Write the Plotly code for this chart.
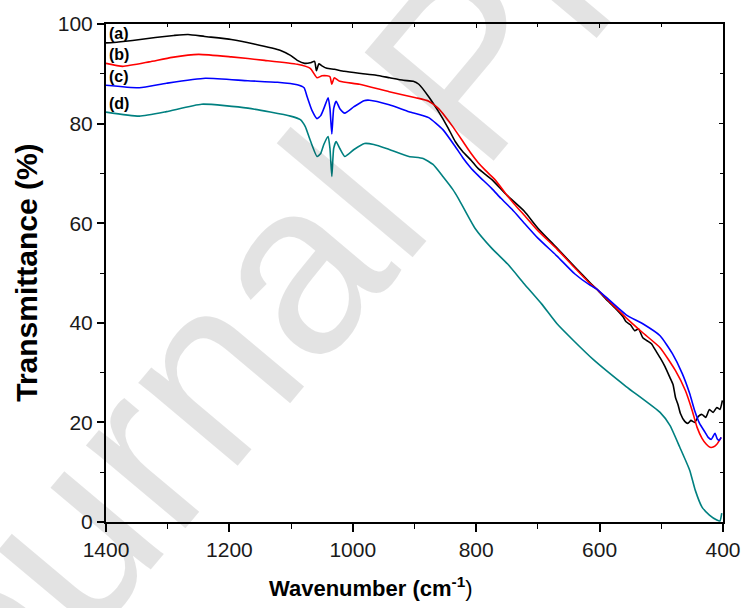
import plotly.graph_objects as go

# FTIR spectra, wavenumber (cm-1) vs transmittance (%)
wn_a = [1400, 1380, 1357, 1320, 1290, 1267, 1240, 1197, 1160, 1117, 1101, 1090, 1078, 1069, 1062,
        1059, 1055, 1050, 1042, 1030, 1014, 990, 962, 940, 918, 902, 893, 877, 861, 845, 834, 822,
        808, 797, 775, 750, 722, 700, 669, 640, 615, 605, 590, 575, 562, 557, 550, 543, 537, 530,
        523, 516, 509, 502, 494, 486, 481, 477, 473, 469, 462, 457, 452, 446, 440, 434, 428, 422,
        416, 410, 405, 401]
t_a = [96.2, 96.4, 96.7, 97.3, 97.7, 97.9, 97.5, 96.9, 96.0, 94.7, 93.7, 92.7, 92.1, 92.2, 92.5,
       90.6, 92.0, 91.6, 91.1, 90.9, 90.5, 90.1, 89.7, 89.2, 88.7, 88.5, 87.9, 85.4, 82.4, 79.0,
       76.4, 74.4, 72.6, 71.0, 68.8, 65.6, 62.4, 59.0, 55.0, 51.2, 48.0, 46.8, 44.8, 43.0, 41.2,
       40.2, 39.6, 38.4, 38.8, 37.0, 36.4, 35.8, 34.4, 33.0, 31.2, 29.0, 27.6, 25.0, 23.6, 21.8,
       20.2, 19.8, 20.4, 20.0, 21.2, 21.6, 21.0, 22.6, 22.0, 23.0, 22.6, 24.4]

wn_b = [1400, 1373, 1330, 1293, 1250, 1197, 1143, 1090, 1069, 1058, 1050, 1042, 1037, 1034, 1030,
        1021, 989, 941, 898, 877, 861, 850, 838, 822, 810, 797, 785, 770, 750, 738, 722, 700, 669,
        640, 615, 605, 590, 557, 530, 502, 477, 461, 450, 442, 434, 427, 421, 415, 410, 403]
t_b = [92.1, 91.5, 92.4, 93.3, 93.9, 93.4, 92.7, 91.9, 91.1, 89.2, 89.6, 89.6, 89.4, 87.9, 89.2,
       88.5, 87.9, 86.4, 85.2, 84.5, 83.0, 81.4, 79.4, 76.5, 74.3, 72.2, 70.6, 68.8, 65.6, 63.8,
       61.6, 58.5, 54.8, 51.0, 47.8, 46.8, 45.0, 41.0, 38.0, 35.0, 30.4, 26.4, 22.4, 19.0, 16.8,
       15.6, 15.0, 15.1, 15.6, 17.0]

wn_c = [1400, 1346, 1302, 1239, 1170, 1122, 1090, 1079, 1074, 1066, 1058, 1052, 1047, 1040, 1037,
        1034, 1031, 1027, 1021, 1013, 998, 982, 973, 941, 909, 877, 854, 834, 822, 810, 797, 775,
        760, 742, 722, 700, 669, 640, 615, 605, 590, 557, 530, 502, 482, 466, 454, 446, 438, 429,
        424, 419, 413, 409, 406, 403]
t_c = [87.7, 87.2, 88.1, 89.1, 88.6, 88.3, 87.8, 87.2, 85.4, 82.6, 81.0, 81.6, 83.0, 85.2, 83.0,
       77.9, 83.0, 84.5, 83.0, 82.1, 83.4, 84.6, 84.7, 83.8, 82.4, 81.2, 78.8, 75.4, 73.2, 71.3,
       69.6, 67.0, 65.0, 62.8, 60.0, 57.0, 53.4, 49.8, 47.5, 46.8, 45.2, 41.6, 39.8, 37.4, 33.8,
       29.8, 25.8, 22.4, 19.8, 18.0, 17.0, 16.6, 17.8, 16.6, 16.4, 17.0]

wn_d = [1400, 1346, 1302, 1245, 1170, 1101, 1085, 1077, 1070, 1058, 1052, 1047, 1040, 1037, 1034,
        1031, 1027, 1021, 1013, 998, 981, 966, 941, 909, 886, 870, 854, 838, 829, 802, 775, 749,
        722, 694, 669, 642, 610, 557, 502, 486, 470, 454, 445, 434, 422, 410, 405, 402]
t_d = [82.3, 81.5, 82.4, 83.9, 83.1, 81.5, 80.8, 79.4, 77.0, 73.4, 74.0, 75.8, 77.4, 75.0, 69.4,
       75.0, 76.4, 75.0, 73.4, 74.8, 76.0, 75.8, 74.8, 73.4, 73.0, 71.8, 69.4, 66.8, 65.0, 59.0,
       55.0, 51.8, 47.8, 43.8, 39.8, 36.4, 32.6, 27.2, 22.0, 19.4, 15.0, 10.4, 6.4, 3.0, 1.4, 0.4,
       0.2, 1.8]

series_names = ["(a)", "(b)", "(c)", "(d)"]
series_colors = ["#000000", "#ff0000", "#0000ff", "#008080"]
label_y = [98.0, 93.8, 89.4, 84.0]

FONT = "Liberation Sans, Arial, sans-serif"

fig = go.Figure()
for wn, t, name, col in zip([wn_a, wn_b, wn_c, wn_d], [t_a, t_b, t_c, t_d],
                            series_names, series_colors):
    fig.add_trace(go.Scatter(x=wn, y=t, mode="lines", name=name,
                             line=dict(color=col, width=1.6, shape="spline", smoothing=0.5),
                             showlegend=False))

# empty trace so the mirrored frame axes (top/right, inward ticks) are drawn
fig.add_trace(go.Scatter(x=[None], y=[None], xaxis="x2", yaxis="y2",
                         showlegend=False, hoverinfo="skip"))

tick_font = dict(family=FONT, size=21, color="#1a1a1a")

# curve labels at the left edge
for name, y in zip(series_names, label_y):
    fig.add_annotation(x=1398, y=y, text="<b>" + name + "</b>", showarrow=False,
                       xanchor="left", yanchor="middle",
                       font=dict(family=FONT, size=16, color="#000000"))

# axis titles, placed as paper annotations
fig.add_annotation(xref="paper", yref="paper", x=0.43, y=-0.13,
                   text="<b>Wavenumber (cm<sup>-1</sup></b>)", showarrow=False,
                   xanchor="center", yanchor="middle",
                   font=dict(family=FONT, size=22, color="#000000"))
fig.add_annotation(xref="paper", yref="paper", x=-0.13, y=0.5,
                   text="<b>Transmittance (%)</b>", showarrow=False, textangle=-90,
                   xanchor="center", yanchor="middle",
                   font=dict(family=FONT, size=30, color="#000000"))

# faint diagonal watermark
fig.add_annotation(xref="paper", yref="paper", x=0.58, y=0.92, text="Journal Pre-proof",
                   showarrow=False, textangle=-50, xanchor="center", yanchor="middle",
                   font=dict(family=FONT, size=245, color="rgba(0,0,0,0.11)"))

fig.update_layout(
    width=753, height=608,
    margin=dict(l=106, r=22, t=22, b=86),
    paper_bgcolor="white", plot_bgcolor="white",
    xaxis=dict(range=[1400, 400], dtick=200, tick0=0, ticks="outside", ticklen=8, tickwidth=1.5,
               tickcolor="black", showline=True, linecolor="black", linewidth=2,
               showgrid=False, zeroline=False, tickfont=tick_font,
               minor=dict(ticks="outside", ticklen=5, tickwidth=1.2, dtick=100,
                          tickcolor="black", showgrid=False)),
    yaxis=dict(range=[0, 100], dtick=20, ticks="outside", ticklen=7, tickwidth=1.5,
               tickcolor="black", showline=True, linecolor="black", linewidth=2,
               showgrid=False, zeroline=False, tickfont=tick_font,
               minor=dict(ticks="outside", ticklen=4, tickwidth=1.2, dtick=10,
                          tickcolor="black", showgrid=False)),
    xaxis2=dict(range=[1400, 400], overlaying="x", side="top", anchor="y2", dtick=200,
                tick0=0, ticks="inside", ticklen=4, tickwidth=1.2, tickcolor="black",
                showline=True, linecolor="black", linewidth=2, showticklabels=False,
                showgrid=False, zeroline=False,
                minor=dict(ticks="inside", ticklen=3, dtick=100, tickcolor="black")),
    yaxis2=dict(range=[0, 100], overlaying="y", side="right", anchor="x2", dtick=20,
                ticks="inside", ticklen=4, tickwidth=1.2, tickcolor="black",
                showline=True, linecolor="black", linewidth=2, showticklabels=False,
                showgrid=False, zeroline=False,
                minor=dict(ticks="inside", ticklen=3, dtick=10, tickcolor="black")),
)

fig.write_html("out.html")
